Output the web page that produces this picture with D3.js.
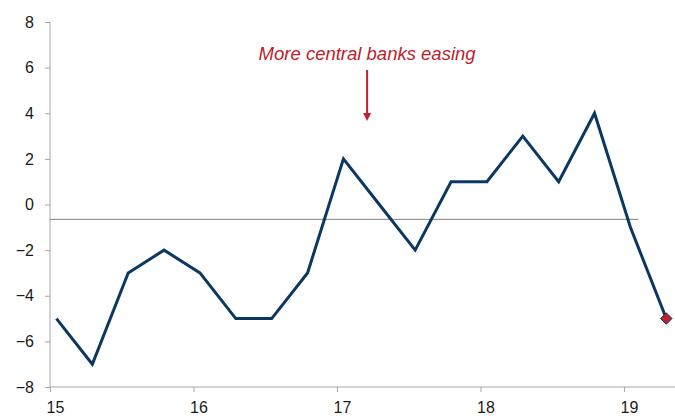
<!DOCTYPE html>
<html>
<head>
<meta charset="utf-8">
<script src="https://cdn.jsdelivr.net/npm/d3@7"></script>
<style>
  body { margin: 0; background: #fff; }
  svg { display: block; font-family: "Liberation Sans", Arial, sans-serif; }
  .axis path, .axis line { stroke: #a6a6a6; }
  .axis text { fill: #1a1a1a; font-size: 16px; }
</style>
</head>
<body>
<div id="chart"></div>
<script>
// quarterly observations, 2015Q1 .. 2019Q2
var quarters = ["15Q1","15Q2","15Q3","15Q4","16Q1","16Q2","16Q3","16Q4",
                "17Q1","17Q2","17Q3","17Q4","18Q1","18Q2","18Q3","18Q4","19Q1","19Q2"];
var values = [-5, -7, -3, -2, -3, -5, -5, -3, 2, 0, -2, 1, 1, 3, 1, 4, -1, -5];

var yearTicks = [15, 16, 17, 18, 19];
var yTicks = [-8, -6, -4, -2, 0, 2, 4, 6, 8];
var refValue = -0.65;          // horizontal reference line
var refSpan = [15, 19.1];
var note = "More central banks easing";
var noteAt = 17.21;

var width = 675, height = 416;
var margin = {top: 22, right: 10, bottom: 29, left: 50};
var innerW = width - margin.left - margin.right;
var innerH = height - margin.top - margin.bottom;

// position of a quarter in "years" (points sit just after the quarter start)
function qPos(i) { return 15 + i / 4 + 0.045; }

var x = d3.scaleLinear().domain([15, 19.3]).range([0, 617]);
var y = d3.scaleLinear().domain([-8, 8]).range([innerH, 0]);

var svg = d3.select("#chart").append("svg")
    .attr("width", width)
    .attr("height", height)
    .append("g")
    .attr("transform", "translate(" + margin.left + "," + margin.top + ")");

// y axis
var yAxis = svg.append("g")
    .attr("class", "axis")
    .call(d3.axisLeft(y).tickValues(yTicks).tickSize(5).tickPadding(11).tickFormat(d3.format("d")));
yAxis.select(".domain").attr("d", "M0," + innerH + "V0");

// x axis
var xAxis = svg.append("g")
    .attr("class", "axis")
    .attr("transform", "translate(0," + innerH + ")")
    .call(d3.axisBottom(x).tickValues(yearTicks).tickSize(5).tickPadding(10).tickFormat(d3.format("d")));
xAxis.select(".domain").attr("d", "M0,0H" + (width - margin.left));
xAxis.selectAll("text").attr("dx", 5);

// reference line
svg.append("line")
    .attr("x1", x(refSpan[0])).attr("x2", x(refSpan[1]))
    .attr("y1", y(refValue)).attr("y2", y(refValue))
    .attr("stroke", "#808080")
    .attr("stroke-width", 1);

// series
var line = d3.line()
    .x(function(d, i) { return x(qPos(i)); })
    .y(function(d) { return y(d); });

svg.append("path")
    .datum(values)
    .attr("fill", "none")
    .attr("stroke", "#0b3763")
    .attr("stroke-width", 3)
    .attr("stroke-linejoin", "miter")
    .attr("d", line);

// last point marker
var last = values.length - 1;
svg.append("path")
    .attr("d", d3.symbol().type(d3.symbolDiamond2).size(85)())
    .attr("transform", "translate(" + x(qPos(last)) + "," + y(values[last]) + ")")
    .attr("fill", "#c0202a")
    .attr("stroke", "#0b3763")
    .attr("stroke-width", 1);

// annotation
svg.append("text")
    .attr("x", x(noteAt))
    .attr("y", 38)
    .attr("text-anchor", "middle")
    .attr("font-style", "italic")
    .attr("font-size", "18.5px")
    .attr("fill", "#c0202a")
    .text(note);

svg.append("line")
    .attr("x1", x(noteAt)).attr("x2", x(noteAt))
    .attr("y1", 48).attr("y2", 92)
    .attr("stroke", "#c0202a")
    .attr("stroke-width", 2);
svg.append("path")
    .attr("d", "M" + (x(noteAt) - 4) + ",91L" + (x(noteAt) + 4) + ",91L" + x(noteAt) + ",99Z")
    .attr("fill", "#c0202a");
</script>
</body>
</html>
